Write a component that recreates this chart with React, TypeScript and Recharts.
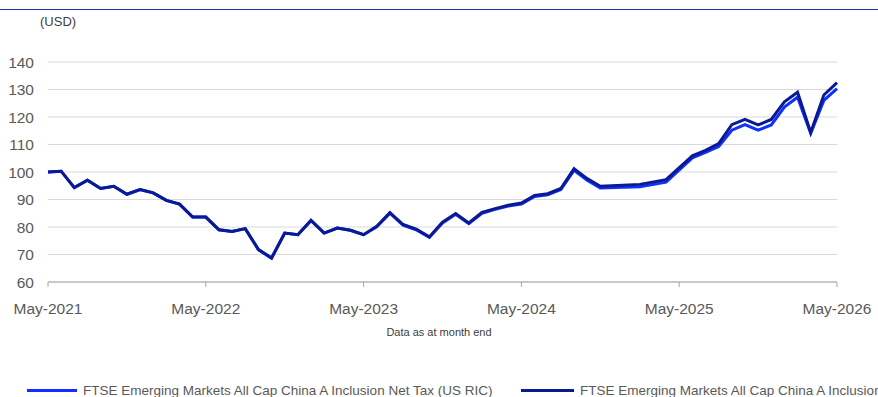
import React from 'react';
import { LineChart, Line, XAxis, YAxis, CartesianGrid } from 'recharts';

// month index from May-2021 (0) to May-2026 (60)
const monthIdx = [
  0, 1, 2, 3, 4, 5, 6, 7, 8, 9, 10, 11, 12, 13, 14, 15, 16, 17, 18, 19, 20,
  21, 22, 23, 24, 25, 26, 27, 28, 29, 30, 31, 32, 33, 34, 35, 36, 37, 38, 39,
  40, 41, 42, 45, 47, 49, 50, 51, 52, 53, 54, 55, 56, 57, 58, 59, 60,
];

const netTax = [
  100, 100.3, 94.3, 97.0, 94.0, 94.8, 91.9, 93.6, 92.4, 89.7, 88.3, 83.6, 83.6,
  79.0, 78.4, 79.4, 71.8, 68.7, 77.8, 77.2, 82.4, 77.8, 79.6, 78.8, 77.2, 80.1,
  85.0, 80.7, 79.0, 76.2, 81.5, 84.6, 81.2, 85.0, 86.4, 87.6, 88.3, 91.1, 91.7,
  93.6, 100.6, 97.0, 94.2, 94.6, 96.3, 105.1, 107.1, 109.3, 115.2, 117.2, 115.2,
  117.1, 123.6, 127.2, 114.1, 126.0, 130.3,
];

const grossIdx = [
  100, 100.3, 94.3, 97.0, 94.0, 94.8, 91.9, 93.6, 92.4, 89.7, 88.3, 83.6, 83.6,
  79.0, 78.4, 79.4, 71.8, 68.7, 77.8, 77.2, 82.4, 77.8, 79.6, 78.8, 77.2, 80.3,
  85.2, 80.9, 79.2, 76.4, 81.8, 84.9, 81.5, 85.3, 86.7, 87.9, 88.7, 91.5, 92.1,
  94.0, 101.2, 97.6, 94.8, 95.5, 97.2, 105.9, 107.9, 110.3, 117.2, 119.1, 117.1,
  119.1, 125.5, 129.0, 114.4, 128.0, 132.5,
];

const xTicks = [0, 12, 24, 36, 48, 60];
const yTicks = [60, 70, 80, 90, 100, 110, 120, 130, 140];

const seriesNames = [
  'FTSE Emerging Markets All Cap China A Inclusion Net Tax (US RIC)',
  'FTSE Emerging Markets All Cap China A Inclusion',
];
const BRIGHT = '#1030ff';
const NAVY = '#0a1a94';
const TEXT = '#595959';
const FONT = '"Liberation Sans", Arial, sans-serif';

const data = monthIdx.map((m, i) => ({ m, net: netTax[i], gross: grossIdx[i] }));

export default function App() {
  return (
    <div
      style={{
        position: 'absolute',
        left: 0,
        top: 0,
        width: 878,
        height: 397,
        overflow: 'hidden',
        background: '#fff',
        fontFamily: FONT,
      }}
    >
      {/* top rule */}
      <div style={{ position: 'absolute', left: 0, top: 9, width: 878, height: 1, background: '#1a2fb0' }} />
      <div style={{ position: 'absolute', left: 40, top: 14, fontSize: 13, color: '#404040' }}>(USD)</div>

      <div style={{ position: 'absolute', left: 0, top: 0 }}>
        <LineChart width={878} height={320} data={data} margin={{ top: 62, right: 41, bottom: 0, left: 0 }}>
          <CartesianGrid vertical={false} stroke="#d9d9d9" />
          <XAxis
            dataKey="m"
            type="number"
            domain={[0, 60]}
            ticks={xTicks}
            tickFormatter={(v: number) => `May-${2021 + v / 12}`}
            stroke="#a6a6a6"
            tickSize={5}
            tickMargin={16}
            height={38}
            tick={{ fill: TEXT, fontSize: 15.5, fontFamily: FONT }}
          />
          <YAxis
            domain={[60, 140]}
            ticks={yTicks}
            width={48}
            axisLine={false}
            tickLine={false}
            tickSize={0}
            tickMargin={14}
            tick={{ fill: TEXT, fontSize: 15.5, fontFamily: FONT }}
          />
          <Line
            type="linear"
            dataKey="net"
            stroke={BRIGHT}
            strokeWidth={3}
            dot={false}
            isAnimationActive={false}
          />
          <Line
            type="linear"
            dataKey="gross"
            stroke={NAVY}
            strokeWidth={3}
            dot={false}
            isAnimationActive={false}
          />
        </LineChart>
      </div>

      <div
        style={{
          position: 'absolute',
          left: 0,
          width: 878,
          top: 326,
          textAlign: 'center',
          fontSize: 11,
          color: '#404040',
        }}
      >
        Data as at month end
      </div>

      {/* legend */}
      <div style={{ position: 'absolute', left: 27, top: 383, display: 'flex', alignItems: 'center', whiteSpace: 'nowrap', fontSize: 13.5, color: TEXT }}>
        <div style={{ width: 50, height: 3, background: BRIGHT, marginRight: 6 }} />
        <span>{seriesNames[0]}</span>
      </div>
      <div style={{ position: 'absolute', left: 521, top: 383, display: 'flex', alignItems: 'center', whiteSpace: 'nowrap', fontSize: 13.5, color: TEXT }}>
        <div style={{ width: 53, height: 3, background: NAVY, marginRight: 6 }} />
        <span>{seriesNames[1]}</span>
      </div>
    </div>
  );
}
